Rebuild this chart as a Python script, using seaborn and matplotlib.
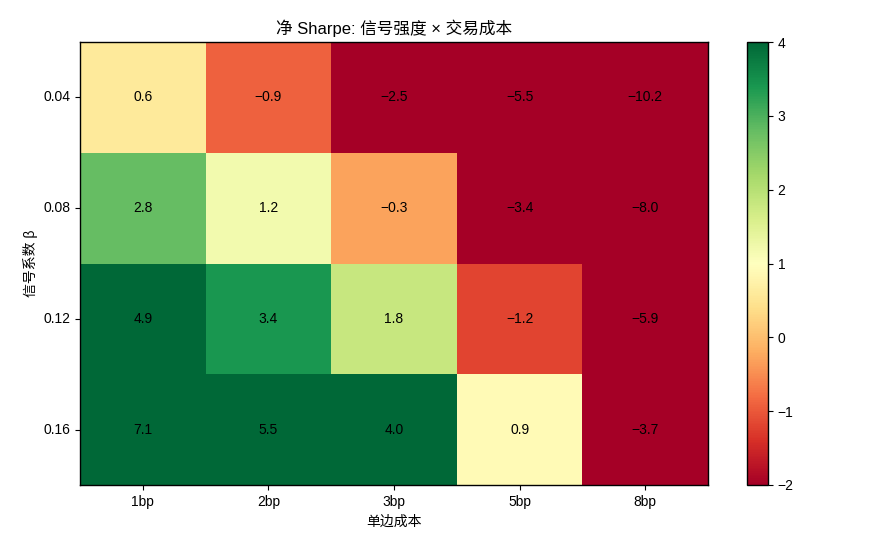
import numpy as np
import pandas as pd
import matplotlib
matplotlib.use("Agg")
import matplotlib.pyplot as plt
import seaborn as sns

# data
betas = ["0.04", "0.08", "0.12", "0.16"]
costs = ["1bp", "2bp", "3bp", "5bp", "8bp"]
row_004 = [0.6, -0.9, -2.5, -5.5, -10.2]
row_008 = [2.8, 1.2, -0.3, -3.4, -8.0]
row_012 = [4.9, 3.4, 1.8, -1.2, -5.9]
row_016 = [7.1, 5.5, 4.0, 0.9, -3.7]

# Latin glyphs in an Arial-like face, CJK falls back to Noto
plt.rcParams["font.family"] = ["Liberation Sans", "Noto Sans CJK SC", "DejaVu Sans"]
plt.rcParams["axes.unicode_minus"] = True

df = pd.DataFrame([row_004, row_008, row_012, row_016], index=betas, columns=costs)
labels = df.map(lambda v: f"{v:.1f}".replace("-", "\u2212"))

fig = plt.figure(figsize=(8.8, 5.5), dpi=100)
ax = fig.add_axes([80 / 880, 65 / 550, 628 / 880, 443 / 550])
cax = fig.add_axes([747 / 880, 65 / 550, 21 / 880, 443 / 550])

sns.heatmap(
    df,
    ax=ax,
    cbar_ax=cax,
    cmap="RdYlGn",
    vmin=-2,
    vmax=4,
    annot=labels,
    fmt="",
    annot_kws={"color": "black", "fontsize": 10},
)

# seaborn hides spines / colorbar outline, put them back
for s in ax.spines.values():
    s.set_visible(True)
    s.set_linewidth(1.0)
cb = ax.collections[0].colorbar
cb.outline.set_visible(True)
cb.outline.set_linewidth(1.0)
cb.set_ticks([-2, -1, 0, 1, 2, 3, 4])
cb.ax.tick_params(labelsize=10)

ax.set_yticklabels(betas, rotation=0)
ax.set_xticklabels(costs, rotation=0)
ax.tick_params(labelsize=10)
ax.set_xlabel("单边成本", fontsize=10)
ax.set_ylabel("信号系数 β", fontsize=10)
ax.set_title("净 Sharpe: 信号强度 × 交易成本", fontsize=12)

fig.savefig("out.png", dpi=100)
